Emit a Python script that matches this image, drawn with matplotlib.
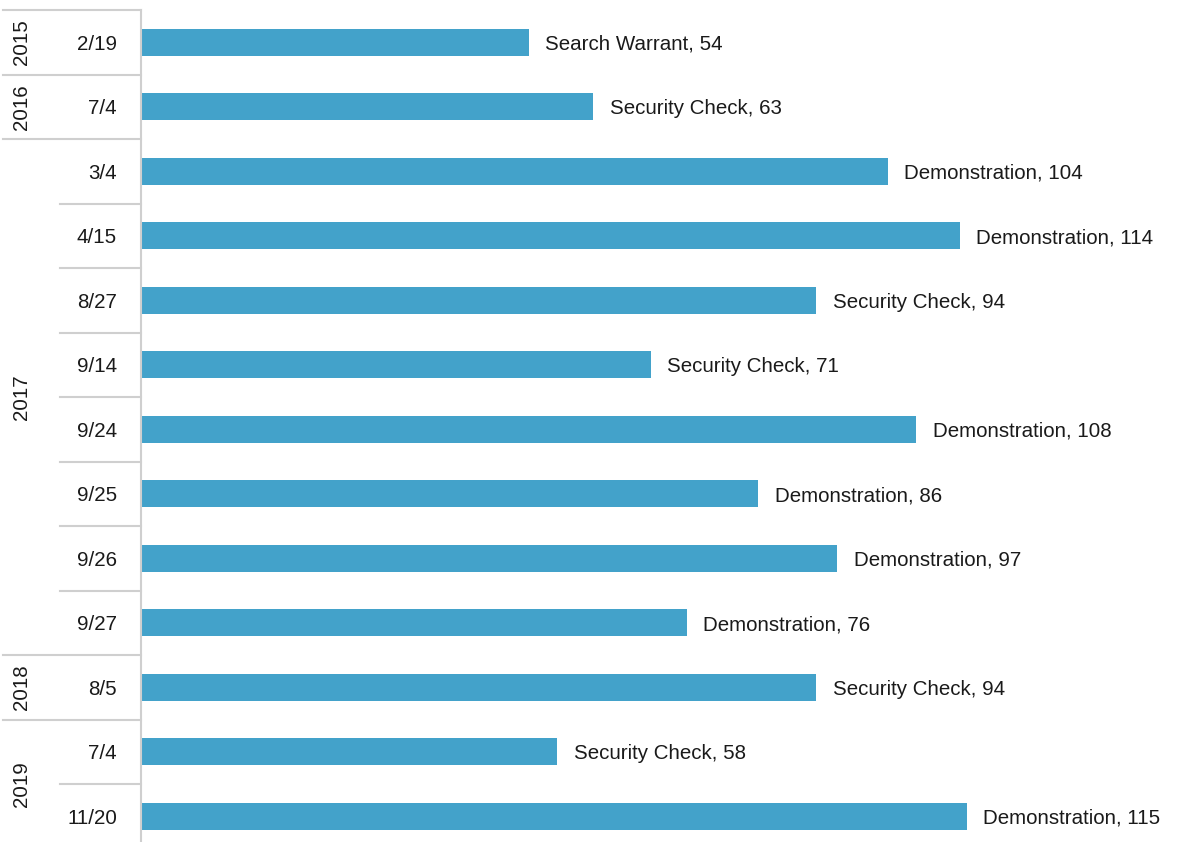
import matplotlib
matplotlib.use("Agg")
import matplotlib.pyplot as plt

# incidents per date, grouped by year
years = ["2015", "2016", "2017", "2018", "2019"]
year_rows = [1, 1, 8, 1, 2]
dates = ["2/19", "7/4", "3/4", "4/15", "8/27", "9/14", "9/24",
         "9/25", "9/26", "9/27", "8/5", "7/4", "11/20"]
events = ["Search Warrant", "Security Check", "Demonstration", "Demonstration",
          "Security Check", "Security Check", "Demonstration", "Demonstration",
          "Demonstration", "Demonstration", "Security Check", "Security Check",
          "Demonstration"]
counts = [54, 63, 104, 114, 94, 71, 108, 86, 97, 76, 94, 58, 115]

plt.rcParams["font.family"] = ["Liberation Sans", "DejaVu Sans"]
FS = 14.8
TXT = "#1a1a1a"
GRID = "#cfcfcf"
BAR = "#43a2ca"

W, H, DPI = 1181, 842, 100
fig = plt.figure(figsize=(W / DPI, H / DPI), dpi=DPI)
left_px, top_px, row_px = 141, 10, 64.5
ax = fig.add_axes([left_px / W, 0, 1 - left_px / W, (H - top_px) / H])

ypos = list(range(len(counts)))
ax.barh(ypos, counts, height=0.42, color=BAR, zorder=2)
ax.set_xlim(0, (W - left_px) / 7.18)
ax.set_ylim(-0.5 + (H - top_px) / row_px, -0.5)

for y, v, ev in zip(ypos, counts, events):
    ax.annotate(f"{ev}, {v}", (v, y), xytext=(12, 0), textcoords="offset points",
                va="center_baseline", ha="left", fontsize=FS, color=TXT)

for s in ax.spines.values():
    s.set_visible(False)
ax.set_xticks([])
ax.set_yticks([])

tr = ax.get_yaxis_transform()
ax_w = W - left_px
x_date = -24 / ax_w
x_year = (22 - left_px) / ax_w
x_full = (3 - left_px) / ax_w
x_part = (60 - left_px) / ax_w

ax.plot([0, 0], [-0.5, 13], transform=tr, color=GRID, lw=1.5, clip_on=False)

for y, d in zip(ypos, dates):
    ax.text(x_date, y, d, transform=tr, ha="right", va="center_baseline",
            fontsize=FS, color=TXT)

start = 0
ax.plot([x_full, 0], [-0.5, -0.5], transform=tr, color=GRID, lw=1.5, clip_on=False)
for yr, n in zip(years, year_rows):
    mid = start + (n - 1) / 2
    ax.text(x_year, mid, yr, transform=tr, rotation=90, ha="center", va="center",
            fontsize=FS, color=TXT)
    for k in range(1, n):
        b = start + k - 0.5
        ax.plot([x_part, 0], [b, b], transform=tr, color=GRID, lw=1.5, clip_on=False)
    start += n
    b = start - 0.5
    ax.plot([x_full, 0], [b, b], transform=tr, color=GRID, lw=1.5, clip_on=False)

fig.savefig("out.png", dpi=DPI)
